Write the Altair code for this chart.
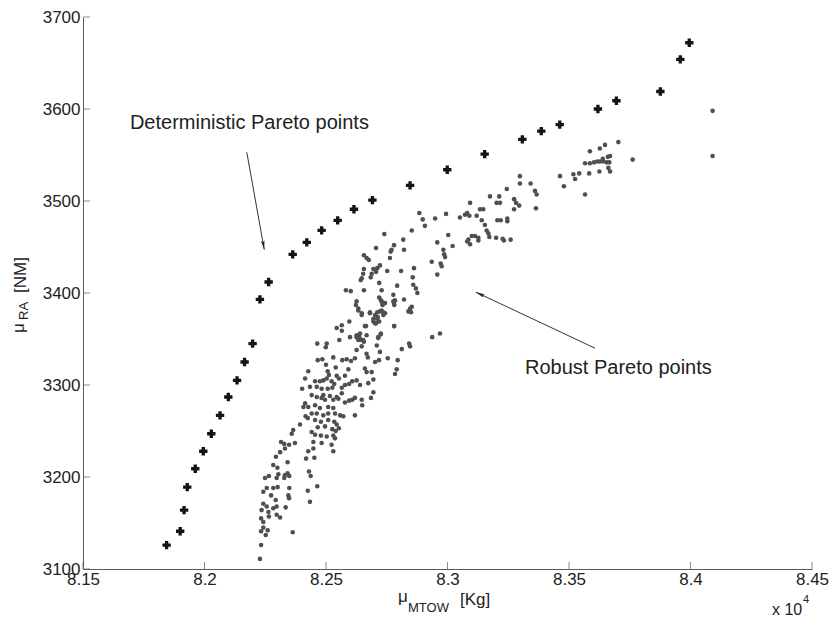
import altair as alt
import pandas as pd

# Deterministic Pareto front: mean MTOW [kg] and mean range [NM]
det_mtow = [81844, 81900, 81916, 81929, 81962, 81995, 82028, 82064, 82098, 82134,
            82165, 82198, 82228, 82264, 82363, 82421, 82482, 82548, 82615, 82691,
            82846, 82999, 83153, 83308, 83386, 83462, 83619, 83695, 83876, 83958, 83995]
det_range = [3126, 3141, 3164, 3189, 3209, 3228, 3247, 3267, 3287, 3305,
             3325, 3345, 3393, 3412, 3442, 3455, 3468, 3479, 3491, 3501,
             3517, 3534, 3551, 3567, 3576, 3583, 3600, 3609, 3619, 3654, 3672]

# Robust Pareto front: mean MTOW [kg]
rob_mtow = [
    82294, 82342, 82418, 82452, 82283, 82300, 82249, 82265, 82297, 82304,
    82331, 82342, 82349, 82328, 82430, 82437, 82464, 82242, 82256, 82283,
    82301, 82274, 82349, 82345, 82348, 82425, 82434, 82242, 82256, 82293,
    82297, 82283, 82334, 82235, 82263, 82265, 82297, 82311, 82233, 82242,
    82242, 82260, 82233, 82252, 82363, 82233, 82228, 82499, 82466, 82485,
    82500, 82530, 82540, 82567, 82585, 82603, 82592, 82507, 82512, 82427,
    82544, 82553, 82578, 82595, 82608, 82414, 82402, 82455, 82475, 82489,
    82503, 82523, 82534, 82434, 82462, 82482, 82507, 82526, 82565, 82578,
    82441, 82462, 82489, 82516, 82544, 82565, 82482, 82496, 82530, 82551,
    82578, 82595, 82608, 82414, 82427, 82407, 82455, 82475, 82509, 82530,
    82441, 82462, 82489, 82509, 82537, 82558, 82571, 82425, 82416, 82455,
    82479, 82509, 82534, 82544, 82393, 82466, 82496, 82526, 82540, 82553,
    82365, 82359, 82441, 82455, 82479, 82503, 82530, 82537, 82315, 82328,
    82348, 82372, 82331, 82311, 82448, 82482, 82523, 82530, 82427, 82448,
    82626, 82633, 82647, 82681, 82695, 82702, 82713, 82722, 82729, 82736,
    82743, 82732, 82726, 82777, 82781, 82846, 82850, 82781, 82660, 82626,
    82640, 82633, 82653, 82647, 82667, 82715, 82726, 82709, 82626, 82619,
    82667, 82672, 82722, 82702, 82718, 82754, 82812, 82846, 82842, 82795,
    82791, 82784, 82937, 82969, 82660, 82667, 82688, 82626, 82640, 82674,
    82695, 82695, 82685, 82647, 82649, 82619, 82619, 82740, 82818, 82706,
    82780, 82770, 82766, 82821, 82656, 82667, 82676, 82763, 82722, 82711,
    82656, 82653, 82647, 82643, 82695, 82688, 82684, 82706, 82752, 82809,
    82719, 82793, 82582, 82602, 82656, 82729, 82777, 82784, 82780, 82821,
    82719, 82729, 82743, 82733, 82623, 82633, 82647, 82681, 82702, 82711,
    82736, 82711, 82695, 82706, 82719, 82596, 82665, 82780, 82565, 82544,
    82565, 82599, 82626, 82637, 82647, 82656, 82725, 82715, 82555, 82464,
    82503, 82839, 83298, 83298, 83342, 83360, 83367, 83364, 83244, 83175,
    83213, 83202, 83216, 83274, 83282, 83295, 83274, 83093, 83134, 83147,
    82884, 82898, 82907, 82949, 82994, 83051, 83072, 83081, 83090, 83120,
    83141, 83154, 83161, 83168, 83205, 83219, 83246, 83246, 83172, 83200,
    83227, 83232, 83260, 83100, 83113, 83127, 83127, 83086, 83093, 83081,
    83003, 83021, 82958, 82983, 82986, 82990, 82853, 82935, 82972, 82976,
    82958, 82862, 82857, 82859, 82870, 82876, 82853, 83703, 83648, 83627,
    83586, 83669, 83660, 83639, 83566, 83586, 83603, 83616, 83627, 83641,
    83655, 83666, 83662, 83669, 83762, 83463, 83518, 83542, 83583, 83625,
    83525, 83479, 83566, 84091, 84091,
]
# Robust Pareto front: mean range [NM]
rob_range = [
    3222, 3216, 3220, 3221, 3213, 3210, 3199, 3201, 3199, 3203,
    3202, 3204, 3201, 3199, 3206, 3201, 3190, 3184, 3188, 3188,
    3189, 3180, 3188, 3180, 3177, 3185, 3173, 3171, 3168, 3175,
    3168, 3166, 3167, 3164, 3162, 3157, 3159, 3156, 3155, 3151,
    3145, 3142, 3141, 3137, 3140, 3126, 3111, 3341, 3327, 3328,
    3322, 3330, 3319, 3327, 3328, 3326, 3317, 3315, 3311, 3315,
    3310, 3307, 3310, 3301, 3304, 3307, 3296, 3304, 3304, 3305,
    3307, 3304, 3301, 3298, 3298, 3296, 3296, 3297, 3297, 3300,
    3289, 3287, 3289, 3288, 3287, 3291, 3286, 3284, 3284, 3285,
    3281, 3283, 3284, 3280, 3276, 3276, 3278, 3275, 3276, 3275,
    3269, 3269, 3267, 3269, 3269, 3267, 3266, 3264, 3266, 3262,
    3260, 3262, 3260, 3257, 3257, 3254, 3255, 3252, 3250, 3253,
    3251, 3247, 3249, 3246, 3245, 3244, 3245, 3242, 3238, 3236,
    3235, 3237, 3231, 3227, 3238, 3237, 3235, 3228, 3228, 3231,
    3391, 3383, 3378, 3378, 3372, 3367, 3374, 3380, 3381, 3376,
    3378, 3388, 3392, 3391, 3387, 3383, 3379, 3364, 3364, 3352,
    3356, 3349, 3349, 3342, 3354, 3352, 3356, 3343, 3338, 3329,
    3334, 3330, 3336, 3325, 3327, 3329, 3339, 3342, 3345, 3327,
    3317, 3312, 3352, 3356, 3318, 3314, 3314, 3305, 3300, 3302,
    3306, 3292, 3286, 3284, 3278, 3286, 3267, 3464, 3458, 3449,
    3452, 3447, 3445, 3447, 3441, 3438, 3436, 3438, 3430, 3427,
    3426, 3421, 3416, 3414, 3426, 3421, 3417, 3423, 3424, 3424,
    3411, 3408, 3403, 3402, 3403, 3403, 3398, 3392, 3389, 3393,
    3395, 3391, 3389, 3387, 3387, 3381, 3376, 3379, 3376, 3379,
    3379, 3372, 3369, 3367, 3369, 3369, 3364, 3364, 3365, 3362,
    3359, 3352, 3354, 3352, 3349, 3347, 3355, 3351, 3349, 3345,
    3345, 3380, 3527, 3519, 3519, 3511, 3507, 3492, 3513, 3505,
    3505, 3498, 3498, 3502, 3498, 3495, 3491, 3498, 3491, 3491,
    3487, 3480, 3473, 3481, 3486, 3482, 3485, 3487, 3484, 3484,
    3479, 3474, 3468, 3465, 3479, 3479, 3481, 3478, 3461, 3460,
    3459, 3457, 3458, 3462, 3462, 3460, 3457, 3458, 3453, 3456,
    3463, 3451, 3455, 3447, 3442, 3439, 3468, 3434, 3432, 3429,
    3420, 3427, 3417, 3409, 3405, 3400, 3385, 3564, 3561, 3557,
    3554, 3549, 3548, 3546, 3541, 3541, 3542, 3543, 3543, 3543,
    3542, 3542, 3536, 3532, 3545, 3527, 3529, 3530, 3530, 3532,
    3524, 3516, 3507, 3598, 3549,
]

# Axis ticks
x_ticks = [81500, 82000, 82500, 83000, 83500, 84000, 84500]
y_ticks = [3100, 3200, 3300, 3400, 3500, 3600, 3700]

# Annotations: label text, label anchor, arrow tail and arrow tip (data units)
note_text = ["Deterministic Pareto points", "Robust Pareto points"]
note_x = [81693, 83319]
note_y = [3585, 3318]
arrow_x = [82174, 83607]
arrow_y = [3553, 3340]
arrow_x2 = [82246, 83116]
arrow_y2 = [3447, 3401]
arrow_angle = [170, 295]

FONT = "Liberation Sans"
TEXT = "#222222"
AXIS = "#5a5a5a"
W, H = 729, 552

xs = alt.Scale(domain=[81500, 84500], nice=False, zero=False)
ys = alt.Scale(domain=[3100, 3700], nice=False, zero=False)

x_axis = alt.Axis(values=x_ticks, labelExpr="format(datum.value / 10000, '~g')",
                  title=None, grid=False, ticks=False, tickSize=0, labelPadding=2,
                  labelFlush=False, labelOverlap=False, labelFontSize=17,
                  labelFont=FONT, labelColor=TEXT, domainColor=AXIS, domainWidth=1)
y_axis = alt.Axis(values=y_ticks, format="d", title=None, grid=False, ticks=False,
                  tickSize=0, labelPadding=3, labelOverlap=False, labelFontSize=17,
                  labelFont=FONT, labelColor=TEXT, domainColor=AXIS, domainWidth=1)

det_df = pd.DataFrame({"mtow": det_mtow, "range": det_range})
rob_df = pd.DataFrame({"mtow": rob_mtow, "range": rob_range})

robust = alt.Chart(rob_df).mark_point(
    shape="circle", filled=True, size=21, color="#4f4f4f", opacity=1
).encode(
    x=alt.X("mtow:Q", scale=xs, axis=x_axis),
    y=alt.Y("range:Q", scale=ys, axis=y_axis),
)

deterministic = alt.Chart(det_df).mark_point(
    shape="cross", filled=True, size=70, color="#141414", opacity=1
).encode(
    x=alt.X("mtow:Q", scale=xs),
    y=alt.Y("range:Q", scale=ys),
)

# Inward-pointing tick marks along both axes
xtick_df = pd.DataFrame({"v": x_ticks, "base": [y_ticks[0]] * len(x_ticks)})
ytick_df = pd.DataFrame({"v": y_ticks, "base": [x_ticks[0]] * len(y_ticks)})
xtick_marks = alt.Chart(xtick_df).mark_tick(
    orient="vertical", size=7, thickness=1, yOffset=-3.5, color=AXIS
).encode(x=alt.X("v:Q", scale=xs), y=alt.Y("base:Q", scale=ys))
ytick_marks = alt.Chart(ytick_df).mark_tick(
    orient="horizontal", size=7, thickness=1, xOffset=3.5, color=AXIS
).encode(y=alt.Y("v:Q", scale=ys), x=alt.X("base:Q", scale=xs))

# Annotation labels with arrows
notes_df = pd.DataFrame({"text": note_text, "x": note_x, "y": note_y})
arrows_df = pd.DataFrame({"x": arrow_x, "y": arrow_y, "x2": arrow_x2,
                          "y2": arrow_y2, "angle": arrow_angle})

notes = alt.Chart(notes_df).mark_text(
    align="left", baseline="middle", font=FONT, fontSize=20, color=TEXT
).encode(x=alt.X("x:Q", scale=xs), y=alt.Y("y:Q", scale=ys), text="text:N")

arrow_lines = alt.Chart(arrows_df).mark_rule(color="#333333", strokeWidth=1).encode(
    x=alt.X("x:Q", scale=xs), y=alt.Y("y:Q", scale=ys),
    x2="x2:Q", y2="y2:Q",
)
ARROW_HEAD = "M0,0L0.42,2.2L0,1.75L-0.42,2.2Z"
arrow_heads = alt.Chart(arrows_df).mark_point(
    shape=ARROW_HEAD, filled=True, size=72, color="#222222", opacity=1
).encode(
    x=alt.X("x2:Q", scale=xs), y=alt.Y("y2:Q", scale=ys),
    angle=alt.Angle("angle:Q", scale=None),
)

# Axis titles with subscripts, built from separate text pieces
one = pd.DataFrame({"k": [0]})


def piece(text, x, y, size, angle=0):
    return alt.Chart(one).mark_text(
        text=text, align="left", baseline="alphabetic", font=FONT,
        fontSize=size, color=TEXT, angle=angle,
    ).encode(x=alt.value(x), y=alt.value(y))


titles = [
    piece("μ", -59, 316, 17, 270),
    piece("RA", -55, 303, 13, 270),
    piece("[NM]", -57, 276, 17, 270),
    piece("μ", 315, 585, 17),
    piece("MTOW", 325, 595, 13),
    piece("[Kg]", 377, 588, 17),
    piece("x 10", 689, 598, 16),
    piece("4", 720, 586, 11),
]

chart = alt.layer(
    robust, deterministic, xtick_marks, ytick_marks,
    arrow_lines, arrow_heads, notes, *titles,
).properties(
    width=W, height=H,
    padding={"left": 83, "top": 17, "right": 20, "bottom": 48},
    autosize=alt.AutoSizeParams(type="none"),
    background="white",
).configure_view(stroke=None)

chart.save("out.html", embed_options={"renderer": "svg", "actions": False})
